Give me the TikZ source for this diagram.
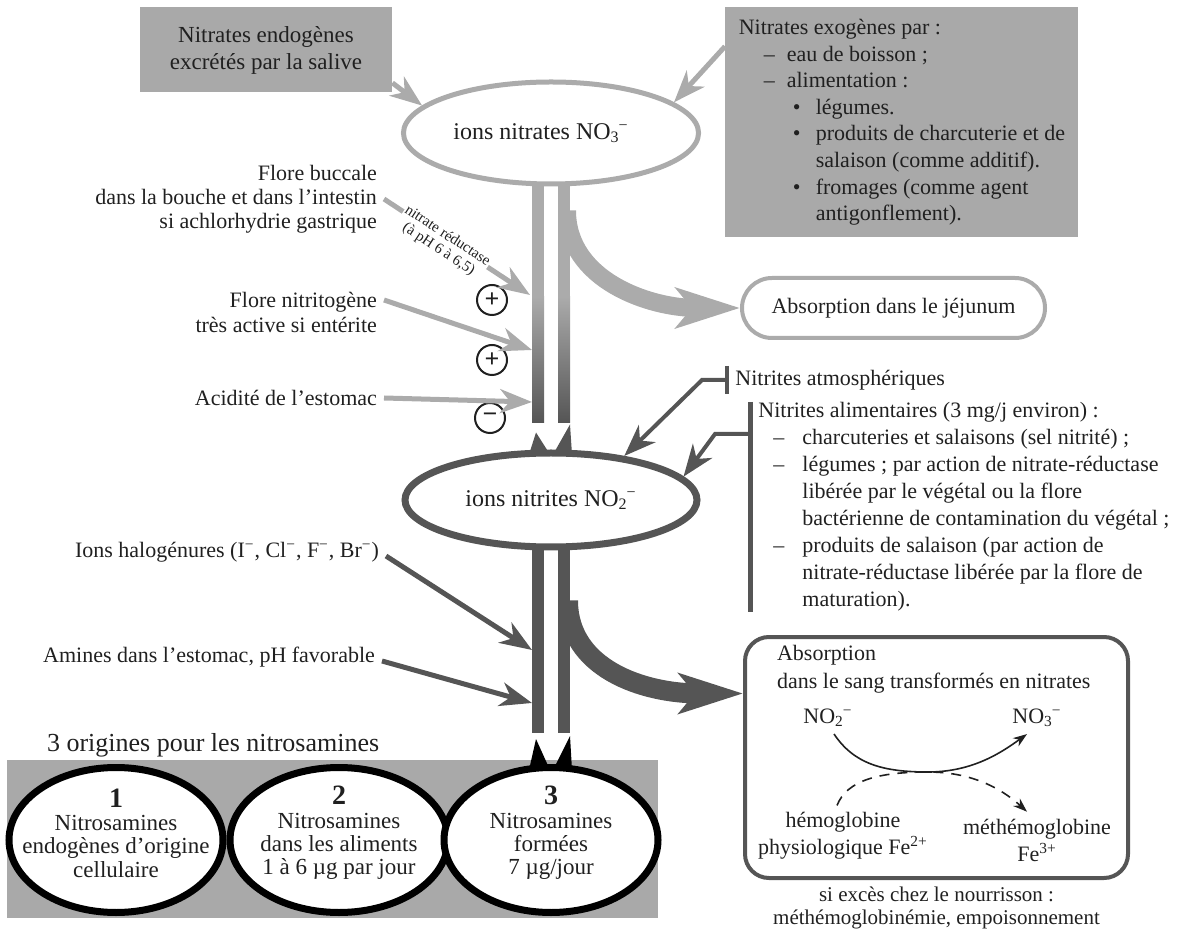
\documentclass[tikz,border=0pt]{standalone}
\usepackage{fontspec}
\setmainfont{Liberation Serif}
\usetikzlibrary{arrows.meta,calc,shapes.geometric,positioning}

\definecolor{boxgray}{HTML}{A9A9A9}
\definecolor{lgray}{HTML}{ABABAB}
\definecolor{dgray}{HTML}{555555}
\definecolor{ink}{HTML}{202020}

\newcommand{\tiret}{\hspace*{12.5pt}\makebox[11.5pt][l]{–}}
\newcommand{\puce}{\hspace*{27pt}\makebox[11.5pt][l]{\textbullet}}
\newcommand{\suite}{\hspace*{38.5pt}}
\newcommand{\tiretb}{\hspace*{7.5pt}\makebox[14.5pt][l]{–}}
\newcommand{\suiteb}{\hspace*{22pt}}

\begin{document}
\begin{tikzpicture}[x=0.5pt, y=-0.5pt,
  txt/.style={text=ink, font=\fontsize{11}{13.5}\selectfont},
  graybox/.style={txt, fill=boxgray, inner sep=0pt},
  lightarrow/.style={draw=lgray, line width=2.5pt, -{Stealth[length=16pt,width=12pt,inset=5pt]}},
  darkarrow/.style={draw=dgray, line width=2.5pt, -{Stealth[length=16pt,width=12pt,inset=5pt]}},
  sign/.style={circle, draw=ink, line width=1pt, minimum size=15pt, inner sep=0pt, text=ink, font=\bfseries\fontsize{13}{13}\selectfont},
  origine/.style={ellipse, draw=black, line width=3.5pt, fill=white, minimum width=107pt, minimum height=72.5pt},
  flow/.style={line width=0.8pt, draw=ink, -{Stealth[length=7pt,width=5pt]}}]
\useasboundingbox (0,0) rectangle (1182,929);

\node[graybox, align=center, minimum width=126pt, minimum height=42.5pt, font=\fontsize{11.5}{13.5}\selectfont] (endo) at (266,50) {Nitrates endogènes\\excrétés par la salive};
\node[graybox, align=left, anchor=north west, minimum width=176.5pt, minimum height=115pt, font=\fontsize{11}{13.3}\selectfont] (exo) at (725,7) {Nitrates exogènes par~:\\\tiret eau de boisson~;\\\tiret alimentation~:\\\puce légumes.\\\puce produits de charcuterie et de\\\suite salaison (comme additif).\\\puce fromages (comme agent\\\suite antigonflement).};

\node[ellipse, draw=lgray, line width=2.5pt, fill=white, minimum width=141pt, minimum height=51pt, txt, font=\fontsize{12}{14}\selectfont] (nitrate) at (551,133) {ions nitrates NO\textsubscript{3}\kern-0.5pt\textsuperscript{−}\hspace*{10pt}};
\node[ellipse, draw=dgray, line width=3.5pt, fill=white, minimum width=146pt, minimum height=47pt, txt, font=\fontsize{12}{14}\selectfont] (nitrite) at (551,500) {ions nitrites NO\textsubscript{2}\kern-0.5pt\textsuperscript{−}};

\node[txt, anchor=east, align=right, font=\fontsize{11}{12}\selectfont] (flore1) at (384,199) {Flore buccale\\dans la bouche et dans l’intestin\\si achlorhydrie gastrique};
\node[txt, anchor=east, align=right, font=\fontsize{11}{12.5}\selectfont] (flore2) at (384,312) {Flore nitritogène\\très active si entérite};
\node[txt, anchor=east] (acid) at (384,398) {Acidité de l’estomac};
\node[sign] (plus1) at (492,300) {+};
\node[sign] (plus2) at (492,360) {+};
\node[sign] (minus) at (490,418) {−};
\node[txt, anchor=east] (halo) at (386,552) {Ions halogénures (I\textsuperscript{−}, Cl\textsuperscript{−}, F\textsuperscript{−}, Br\textsuperscript{−})};
\node[txt, anchor=east] (amines) at (382,657) {Amines dans l’estomac, pH favorable};

\node[txt, draw=lgray, line width=2pt, rounded corners=15pt, minimum width=151.5pt, minimum height=30pt] (jejunum) at (893.5,308) {Absorption dans le jéjunum};
\node[txt, anchor=west, inner sep=3pt] (atmo) at (729,380) {Nitrites atmosphériques};
\node[txt, anchor=north west, align=left, inner xsep=4pt, inner ysep=0pt] (alim) at (750,402) {Nitrites alimentaires (3~mg/j environ)~:\\\tiretb charcuteries et salaisons (sel nitrité)~;\\\tiretb légumes~; par action de nitrate-réductase\\\suiteb libérée par le végétal ou la flore\\\suiteb bactérienne de contamination du végétal~;\\\tiretb produits de salaison (par action de\\\suiteb nitrate-réductase libérée par la flore de\\\suiteb maturation).};

\node[draw=dgray, line width=2pt, rounded corners=12pt, minimum width=191.5pt, minimum height=120.5pt] (absorb) at (936.5,757.5) {};
\node[txt, anchor=north west, align=left, font=\fontsize{11}{14}\selectfont] (abstitre) at (770,638) {Absorption\\dans le sang transformés en nitrates};
\node[txt] (no2) at (828,718) {NO\textsubscript{2}\kern-0.5pt\textsuperscript{−}};
\node[txt] (no3) at (1037,718) {NO\textsubscript{3}\kern-0.5pt\textsuperscript{−}};
\node[txt, align=center] (hemo) at (843,836) {hémoglobine\\physiologique Fe\textsuperscript{2+}};
\node[txt, align=center] (methemo) at (1037,840) {méthémoglobine\\Fe\textsuperscript{3+}};
\coordinate (mid) at (928,772);
\node[txt, align=center, font=\fontsize{10.5}{11.5}\selectfont, below=0pt of absorb] (excess) {si excès chez le nourrisson~:\\méthémoglobinémie, empoisonnement};

\node[txt, anchor=west, font=\fontsize{13}{15}\selectfont] (titre) at (40,745) {3 origines pour les nitrosamines};
\fill[boxgray] (7,760) rectangle (658,918);
\node[origine] (o1) at (116,840) {};
\node[origine, minimum width=109pt] (o2) at (339,840) {};
\node[origine] (o3) at (551,840) {};
\node[txt, align=center, font=\fontsize{11.5}{11.7}\selectfont] (o1t) at (116,833) {{\bfseries\fontsize{14}{14}\selectfont 1}\\Nitrosamines\\endogènes d’origine\\cellulaire};
\node[txt, align=center, font=\fontsize{11.5}{11.7}\selectfont] (o2t) at (339,833) {{\bfseries\fontsize{14}{14}\selectfont 2}\\Nitrosamines\\dans les aliments\\1 à 6 µg par jour};
\node[txt, align=center, font=\fontsize{11.5}{11.7}\selectfont] (o3t) at (551,833) {{\bfseries\fontsize{14}{14}\selectfont 3}\\Nitrosamines\\formées\\7 µg/jour};

\coordinate (in1) at (530,295);
\coordinate (in2) at (532,350);
\coordinate (in3) at (532,402);
\coordinate (in4) at (532,650);
\coordinate (in5) at (532,703);

\foreach \dx in {-19,7} {
  \fill[lgray] ($(nitrate.south)+(\dx,-3)$) rectangle ($(nitrate.south)+(\dx+12,110)$);
  \shade[top color=lgray, bottom color=dgray] ($(nitrate.south)+(\dx,110)$) rectangle ($(nitrite.north)+(\dx+12,-27)$);
  \fill[dgray] ($(nitrite.south)+(\dx,-3)$) rectangle ($(o3.north)+(\dx+12,-31)$);
}
\fill[dgray] ($(nitrite.north)+(-15,-17)$) -- ($(nitrite.north)+(-22,5)$) -- ($(nitrite.north)+(-1,5)$) -- cycle;
\fill[dgray] ($(nitrite.north)+(19,-25)$) -- ($(nitrite.north)+(21,5)$) -- ($(nitrite.north)+(2,5)$) -- cycle;
\fill[black] ($(o3.north)+(-15,-25)$) -- ($(o3.north)+(-22,6)$) -- ($(o3.north)+(-1,6)$) -- cycle;
\fill[black] ($(o3.north)+(19,-28)$) -- ($(o3.north)+(21,6)$) -- ($(o3.north)+(2,6)$) -- cycle;

\draw[lightarrow] ([yshift=5pt]endo.south east) -- (nitrate.168);
\draw[lightarrow] ([yshift=38pt]exo.west) -- (nitrate.14);
\draw[lightarrow] (flore1.east) -- node[sloped, pos=0.42, below=-7pt, fill=white, inner sep=0.5pt, align=center, text=ink, font=\fontsize{7.5}{8}\selectfont] (enzyme) {nitrate réductase\\(à pH 6 à 6,5)} (in1);
\draw[lightarrow] ([yshift=6pt]flore2.east) -- (in2);
\draw[lightarrow] (acid.east) -- (in3);
\draw[darkarrow] ([yshift=-2pt]halo.east) -- (in4);
\draw[darkarrow] ([yshift=-2pt]amines.east) -- (in5);

\draw[draw=lgray, line width=9pt, -{Stealth[length=32pt,width=20pt,inset=8pt]}] ($(nitrate.south)+(16,24)$) .. controls +(0,70) and +(-90,0) .. (jejunum.west);
\draw[draw=dgray, line width=10pt, -{Stealth[length=32pt,width=20pt,inset=8pt]}] ($(nitrite.south)+(17,50)$) .. controls +(0,68) and +(-100,0) .. ([yshift=32pt]absorb.west);

\draw[darkarrow, line width=2pt, {Bar[width=14pt]}-{Stealth[length=16pt,width=12pt,inset=5pt]}] (atmo.west) -- ++(-27,0) -- (nitrite.31);
\draw[dgray, line width=2.5pt] (alim.north west) -- (alim.south west);
\draw[darkarrow, line width=2pt] ([yshift=-16pt]alim.north west) -- ++(-35,0) -- (nitrite.10);

\draw[flow] ([xshift=3pt]no2.south) .. controls +(20,30) and +(-45,0) .. (mid) .. controls +(45,0) and +(-25,18) .. ([xshift=-5pt]no3.south);
\draw[flow, dash pattern=on 5pt off 4pt] ([xshift=-3pt]hemo.north) .. controls +(10,-25) and +(-50,0) .. (mid) .. controls +(50,0) and +(-20,-18) .. ([xshift=-5pt]methemo.north);
\end{tikzpicture}
\end{document}
